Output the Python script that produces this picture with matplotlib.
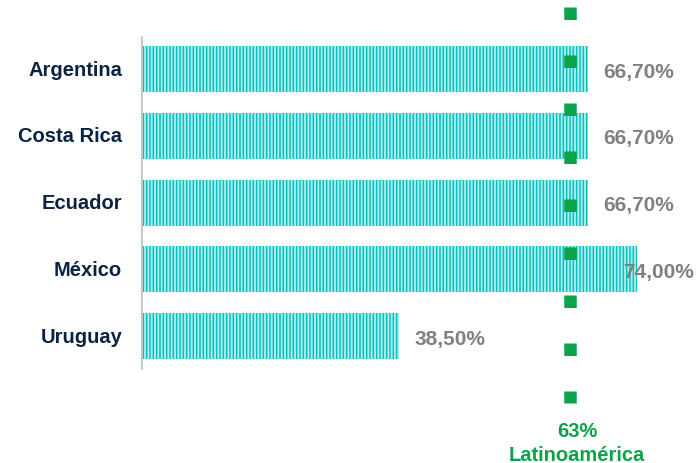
import numpy as np
import matplotlib.pyplot as plt

# Data
countries = ["Argentina", "Costa Rica", "Ecuador", "México", "Uruguay"]
values = [66.7, 66.7, 66.7, 74.0, 38.5]
value_labels = ["66,70%", "66,70%", "66,70%", "74,00%", "38,50%"]
region_value = 63
region_label = "63%\nLatinoamérica"

plt.rcParams['font.family'] = ['Liberation Sans', 'DejaVu Sans']
plt.rcParams['hatch.linewidth'] = 1.35

fig = plt.figure(figsize=(6.97, 4.64), dpi=100)
# axes left edge sits where the bars start
ax = fig.add_axes([141 / 697, 0, 536 / 697, 1])
ax.set_xlim(0, 80)
ax.set_ylim(5.90, -1.049)

y = np.arange(len(countries))
ax.barh(y, values, height=0.69, color='#00c0c0', edgecolor='#b0eded',
        linewidth=0, hatch='|||||', zorder=2)

# left axis line
ax.vlines(0, -0.5, len(countries) - 0.5, color='#c4c4c4', lw=2.6, zorder=3)

# reference line drawn as square dashes (slightly right of 63 as in the original)
ref_x = region_value + 1.1
ax.plot([ref_x, ref_x], [-0.929, 5.004], color='#0aa24a', lw=9.0,
        linestyle=(0, (1, 2.84)), solid_capstyle='butt',
        dash_capstyle='butt', zorder=4)
ax.text(ref_x + 1.0, 5.59, region_label, ha='center', va='center',
        color='#0aa24a', fontsize=14.5, fontweight='bold', linespacing=1.3)

# value labels
for yi, v, lab in zip(y, values, value_labels):
    ax.text(min(v, 69.6) + 2.3, yi + 0.03, lab, ha='left', va='center',
            color='#808080', fontsize=15, fontweight='bold', zorder=5)

# category labels
for yi, c in zip(y, countries):
    ax.text(-2.8, yi, c, ha='right', va='center', color='#0c2340',
            fontsize=14.5, fontweight='bold')

ax.axis('off')
fig.savefig('out.png', dpi=100)
